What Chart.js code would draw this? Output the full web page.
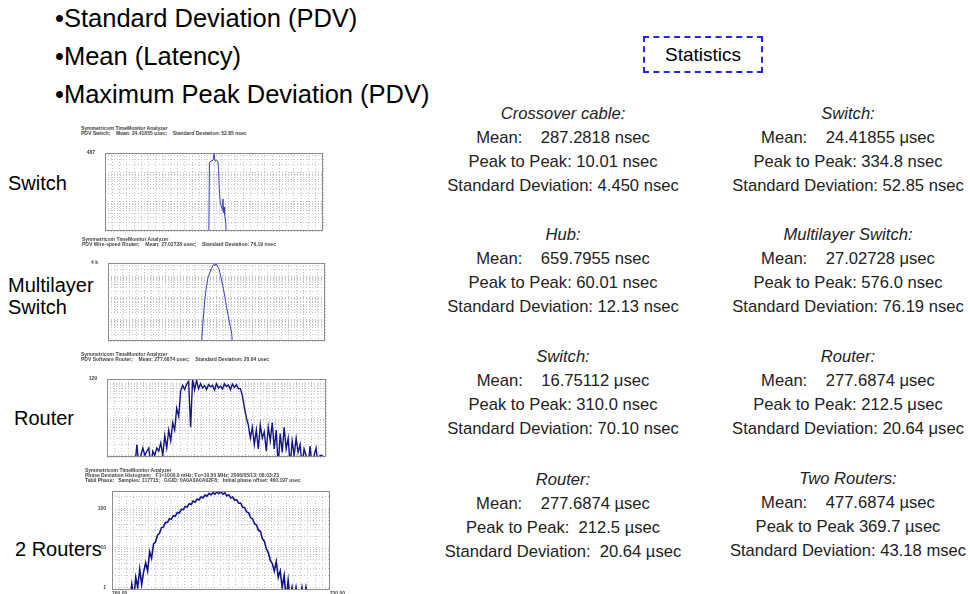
<!DOCTYPE html>
<html>
<head>
<meta charset="utf-8">
<script src="https://cdn.jsdelivr.net/npm/chart.js@4.4.1/dist/chart.umd.min.js"></script>
<style>
  body { margin: 0; width: 970px; height: 594px; overflow: hidden; background: #fff; position: relative;
         font-family: Arial, 'Liberation Sans', sans-serif; }
  .abs { position: absolute; white-space: pre; }
  .bullet { left: 55px; font-size: 25.5px; line-height: 30px; color: #000; }
  .side { font-size: 20px; line-height: 22px; color: #000; }
  .hdr { font-size: 5px; line-height: 5px; font-weight: bold; color: #444; background: #fff; z-index: 2; padding-right: 4px; }
  .plot { position: absolute; z-index: 1; }
  .stat { width: 320px; text-align: center; font-size: 16.6px; line-height: 24px; color: #222; }
  #statsBox { left: 643px; top: 36px; width: 116px; height: 33px; border: 2px dashed #2525e8;
              font-size: 19px; line-height: 33px; text-align: center; color: #000; }
</style>
</head>
<body>
<div class="abs bullet" style="top:3px">•Standard Deviation (PDV)</div>
<div class="abs bullet" style="top:41px">•Mean (Latency)</div>
<div class="abs bullet" style="top:79px">•Maximum Peak Deviation (PDV)</div>

<div class="abs" id="statsBox">Statistics</div>

<div class="abs side" style="left:8px;top:172px">Switch</div>
<div class="abs side" style="left:8px;top:274px">Multilayer
Switch</div>
<div class="abs side" style="left:14px;top:407px">Router</div>
<div class="abs side" style="left:15px;top:538px">2 Routers</div>

<div class="abs hdr" style="left:81px;top:126px">Symmetricom TimeMonitor Analyzer
PDV Switch;    Mean: 24.41855 usec;    Standard Deviation: 52.85 nsec</div>
<div class="abs hdr" style="left:82px;top:237px">Symmetricom TimeMonitor Analyzer
PDV Wire-speed Router;    Mean: 27.02728 usec;    Standard Deviation: 76.19 nsec</div>
<div class="abs hdr" style="left:81px;top:352px">Symmetricom TimeMonitor Analyzer
PDV Software Router;    Mean: 277.6874 usec;    Standard Deviation: 20.64 usec</div>
<div class="abs hdr" style="left:85px;top:468px">Symmetricom TimeMonitor Analyzer
Phase Deviation Histogram;   F1=1000.0 mHz; Fo=10.00 MHz; 2006/05/13; 08:03:23
Tabil Phase;   Samples: 117715;   GGID: 0A0A0A0A02F8;   Initial phase offset: 460.197 usec</div>

<div class="plot" style="left:70px;top:140px;width:258px;height:104px"><canvas id="c1"></canvas></div>
<div class="plot" style="left:70px;top:250px;width:260px;height:104px"><canvas id="c2"></canvas></div>
<div class="plot" style="left:70px;top:366px;width:261px;height:104px"><canvas id="c3"></canvas></div>
<div class="plot" style="left:80px;top:482px;width:266px;height:118px"><canvas id="c4"></canvas></div>

<div class="abs stat" style="left:403px;top:102px"><i>Crossover cable:</i>
Mean:    287.2818 nsec
Peak to Peak: 10.01 nsec
Standard Deviation: 4.450 nsec</div>
<div class="abs stat" style="left:688px;top:102px"><i>Switch:</i>
Mean:    24.41855 μsec
Peak to Peak: 334.8 nsec
Standard Deviation: 52.85 nsec</div>
<div class="abs stat" style="left:403px;top:223px"><i>Hub:</i>
Mean:    659.7955 nsec
Peak to Peak: 60.01 nsec
Standard Deviation: 12.13 nsec</div>
<div class="abs stat" style="left:688px;top:223px"><i>Multilayer Switch:</i>
Mean:    27.02728 μsec
Peak to Peak: 576.0 nsec
Standard Deviation: 76.19 nsec</div>
<div class="abs stat" style="left:403px;top:345px"><i>Switch:</i>
Mean:    16.75112 μsec
Peak to Peak: 310.0 nsec
Standard Deviation: 70.10 nsec</div>
<div class="abs stat" style="left:688px;top:345px"><i>Router:</i>
Mean:    277.6874 μsec
Peak to Peak: 212.5 μsec
Standard Deviation: 20.64 μsec</div>
<div class="abs stat" style="left:403px;top:468px"><i>Router:</i>
Mean:    277.6874 µsec
Peak to Peak:  212.5 µsec
Standard Deviation:  20.64 µsec</div>
<div class="abs stat" style="left:688px;top:467px"><i>Two Routers:</i>
Mean:    477.6874 µsec
Peak to Peak 369.7 µsec
Standard Deviation: 43.18 msec</div>

<script>
// histogram data (x = bin position, y = count, 0.5 = empty bin)
const switchX = [47.6, 47.9, 48.2, 48.7, 49.1, 49.7, 50.0, 50.5, 51.2, 51.8, 52.1, 52.4, 52.8, 53.4, 53.8, 54.1, 54.3, 54.6, 54.9, 55.4, 55.7];
const switchCount = [0.5, 203, 240, 265, 252, 300, 458, 255, 279, 240, 133, 30, 10.5, 6.7, 5.5, 12.8, 4.3, 6.7, 3.5, 1.9, 0.5];

const mlsX = [43.0, 43.6, 44.6, 45.3, 46.1, 47.0, 47.7, 48.3, 48.8, 49.3, 49.7, 50.3, 50.8, 51.2, 52.0, 53.1, 53.8, 54.6, 55.4, 56.2, 57.0, 57.4];
const mlsCount = [0.5, 4.7, 78, 300, 847, 1500, 2275, 2900, 3470, 3000, 3600, 3200, 2500, 1970, 900, 276, 120, 39, 15, 5.4, 2.3, 0.5];

const routerCount = [
  0.5, 0.5, 0.5, 0.5, 0.5, 0.5, 0.5, 0.5, 0.5, 0.5, 0.5, 0.5, 0.5, 0.5, 0.5,
  2.0, 0.5, 1, 1.6, 1, 1.3, 1.6, 0.5, 1.3, 1, 1.6, 1.3, 2.2, 1, 3.5,
  1.6, 5, 2.5, 8, 5, 20, 12, 60, 86, 66, 92, 112, 6, 125, 64,
  118, 70, 96, 74, 84, 66, 90, 78, 86, 64, 94, 72, 82, 68, 95,
  80, 88, 66, 93, 75, 90, 70, 70, 45, 21, 11, 6.8, 3, 6, 2,
  5, 1.5, 7, 3, 4.5, 1.3, 6, 2.5, 8, 1.5, 5, 0.5, 4, 1.2, 6,
  1.5, 3, 0.5, 2.5, 1, 3, 1.2, 2, 0.5, 1.5, 1, 0.5, 1.8, 0.5, 1,
  1.6, 0.5, 1, 1, 0.5
];

const twoRouterCount = [
  0.5, 0.5, 0.5, 0.5, 0.5, 0.5, 0.5, 0.5, 0.5, 0.5,
  1.2, 0.5, 1.8, 1, 2.9, 1.2, 2.5, 4.2, 2.6, 8,
  5.5, 12.7, 14.1, 21.2, 23.5, 32.9, 33.8, 44.5, 44.2, 55,
  53.6, 65.7, 64, 79.5, 77, 95.4, 94, 113, 109, 132.5,
  127, 153.7, 145, 175, 165.4, 198, 186, 220, 205, 241.7,
  221, 254, 231, 265, 237, 268, 230, 250, 208, 222.6,
  186, 196, 161.7, 167.5, 136, 137.8, 108, 106, 81.8, 78.4,
  58.3, 55, 41.4, 38, 28, 26.5, 17, 14.8, 9.5, 7.5,
  4.8, 4, 2.6, 4.5, 1.8, 2.6, 1, 2, 0.5, 1.5,
  0.5, 1, 0.5, 1, 0.5, 0.5, 1, 0.5, 1, 0.5,
  0.5, 0.5, 0.5, 0.5, 0.5, 0.5, 0.5, 0.5, 0.5, 0.5
];
const twoRouterXLabels = ['200.00', '230.00'];

// draws the grey frame round the plot area
const framePlugin = {
  id: 'frame',
  afterDraw(chart) {
    const a = chart.chartArea;
    const ctx = chart.ctx;
    ctx.save();
    ctx.strokeStyle = '#8c8c8c';
    ctx.lineWidth = 1;
    ctx.strokeRect(Math.round(a.left) + 0.5, Math.round(a.top) + 0.5,
                   Math.round(a.width) - 1, Math.round(a.height) - 1);
    ctx.restore();
  }
};

function logTicks(min, max) {
  const t = [];
  for (let e = Math.floor(Math.log10(min)); e <= Math.ceil(Math.log10(max)); e++) {
    for (let m = 1; m < 10; m++) {
      const v = m * Math.pow(10, e);
      if (v >= min && v < max) t.push({ value: v });
    }
  }
  t.push({ value: max });
  return t;
}

function makeHistogram(id, opt) {
  const points = opt.y.map((v, i) => ({ x: opt.x ? opt.x[i] : i, y: v }));
  const tickFont = { family: 'Arial', size: 5, weight: 'bold' };
  return new Chart(document.getElementById(id), {
    type: 'line',
    data: {
      datasets: [{
        data: points,
        borderColor: opt.color,
        borderWidth: opt.width,
        pointRadius: 0,
        tension: 0
      }]
    },
    options: {
      responsive: true,
      maintainAspectRatio: false,
      animation: false,
      layout: { padding: { top: opt.padTop, right: opt.padRight, left: 0, bottom: 0 } },
      plugins: { legend: { display: false }, tooltip: { enabled: false }, title: { display: false } },
      scales: {
        x: {
          type: 'linear',
          min: 0,
          max: opt.xMax,
          afterBuildTicks: s => {
            const t = [];
            for (let k = 0; k <= 30; k++) t.push({ value: opt.xMax * k / 30 });
            s.ticks = t;
          },
          afterFit: s => { s.height = opt.xHeight; },
          grid: { color: '#c4c4c4', drawTicks: false },
          border: { display: false, dash: [1, 2] },
          ticks: {
            display: !!opt.xLabels,
            autoSkip: false,
            maxRotation: 0,
            align: 'start',
            padding: 1,
            font: tickFont,
            color: '#444',
            callback: (v, i) => opt.xLabels ? (i === 0 ? opt.xLabels[0] : i === 30 ? opt.xLabels[1] : '') : ''
          }
        },
        y: {
          type: 'logarithmic',
          min: opt.yMin,
          max: opt.yMax,
          afterBuildTicks: s => { s.ticks = logTicks(opt.yMin, opt.yMax); },
          afterFit: s => { s.width = opt.axisWidth; },
          grid: { color: '#c4c4c4', drawTicks: false },
          border: { display: false, dash: [1, 2] },
          ticks: {
            autoSkip: false,
            padding: opt.labelPad,
            font: tickFont,
            color: '#444',
            callback: v => opt.yLabels[v] || ''
          }
        }
      }
    },
    plugins: [framePlugin]
  });
}

makeHistogram('c1', { x: switchX, y: switchCount, xMax: 100, yMin: 1, yMax: 487, yLabels: { 487: '487' },
  color: '#3c3cc0', width: 1, axisWidth: 35, labelPad: 10, padTop: 3, padRight: 5, xHeight: 4 });
makeHistogram('c2', { x: mlsX, y: mlsCount, xMax: 100, yMin: 1, yMax: 4000, yLabels: { 4000: '4 k' },
  color: '#3c3cc0', width: 1, axisWidth: 38, labelPad: 10, padTop: 3, padRight: 5, xHeight: 2 });
makeHistogram('c3', { y: routerCount, xMax: 110, yMin: 0.9, yMax: 129, yLabels: { 129: '129' },
  color: '#14148a', width: 1.4, axisWidth: 37, labelPad: 10, padTop: 5, padRight: 5, xHeight: 2 });
makeHistogram('c4', { y: twoRouterCount, xMax: 110, yMin: 0.86, yMax: 278, yLabels: { 100: '100', 10: '10', 1: '1' },
  color: '#14148a', width: 1.6, axisWidth: 32, labelPad: 6, padTop: 5, padRight: 16, xHeight: 10, xLabels: twoRouterXLabels });
</script>
</body>
</html>
